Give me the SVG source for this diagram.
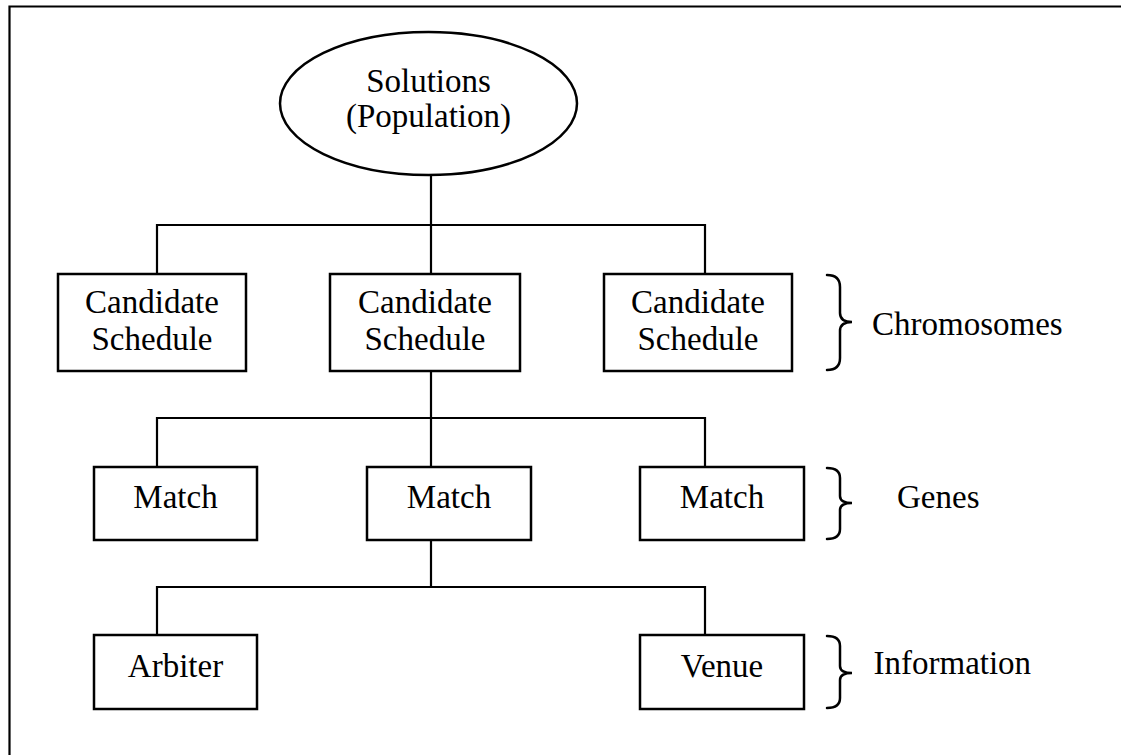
<svg xmlns="http://www.w3.org/2000/svg" width="1121" height="755" viewBox="0 0 1121 755">
<style>
.box{fill:#fff;stroke:#000;stroke-width:2.5}
.ln{fill:none;stroke:#000;stroke-width:2.2}
.br{fill:none;stroke:#000;stroke-width:2.5;stroke-linecap:round}
text{font-family:"Liberation Serif","Times New Roman",serif;font-size:33px;fill:#000}
.c{text-anchor:middle}
</style>
<rect width="1121" height="755" fill="#fff"/>
<path class="ln" d="M9.5,755 V6.5 H1121" stroke-width="2.5"/>
<g id="connectors">
<path class="ln" d="M431,175 V225 M157,274 V225 H705 V274 M431,225 V274"/>
<path class="ln" d="M431,371 V418 M157,467 V418 H705 V467 M431,418 V467"/>
<path class="ln" d="M431,540 V587 M157,635 V587 H705 V635"/>
</g>
<g id="root">
<ellipse class="box" cx="428.5" cy="103.5" rx="148.5" ry="71.5"/>
<text class="c" x="428.5" y="92">Solutions</text>
<text class="c" x="428.5" y="127">(Population)</text>
</g>
<g id="cs1"><rect class="box" x="58" y="274" width="188" height="97"/><text class="c" x="152" y="313">Candidate</text><text class="c" x="152" y="350">Schedule</text></g>
<g id="cs2"><rect class="box" x="330" y="274" width="190" height="97"/><text class="c" x="425" y="313">Candidate</text><text class="c" x="425" y="350">Schedule</text></g>
<g id="cs3"><rect class="box" x="604" y="274" width="188" height="97"/><text class="c" x="698" y="313">Candidate</text><text class="c" x="698" y="350">Schedule</text></g>
<g id="m1"><rect class="box" x="94" y="467" width="163" height="73"/><text class="c" x="175.5" y="508">Match</text></g>
<g id="m2"><rect class="box" x="367" y="467" width="164" height="73"/><text class="c" x="449" y="508">Match</text></g>
<g id="m3"><rect class="box" x="640" y="467" width="164" height="73"/><text class="c" x="722" y="508">Match</text></g>
<g id="arbiter"><rect class="box" x="94" y="635" width="163" height="74"/><text class="c" x="175.5" y="677">Arbiter</text></g>
<g id="venue"><rect class="box" x="640" y="635" width="164" height="74"/><text class="c" x="722" y="677">Venue</text></g>
<g id="chromosomes">
<path class="br" d="M827,275 Q840,275 840,287 L840,313 Q840,322 852,322 Q840,322 840,331 L840,358 Q840,370 827,370"/>
<text x="872" y="335">Chromosomes</text>
</g>
<g id="genes">
<path class="br" d="M827,468 Q840,468 840,478 L840,496 Q840,503 852,503 Q840,503 840,510 L840,529 Q840,539 827,539"/>
<text x="897" y="508">Genes</text>
</g>
<g id="information">
<path class="br" d="M827,636 Q840,636 840,646 L840,666 Q840,673 852,673 Q840,673 840,680 L840,698 Q840,708 827,708"/>
<text x="873.5" y="674">Information</text>
</g>
</svg>
